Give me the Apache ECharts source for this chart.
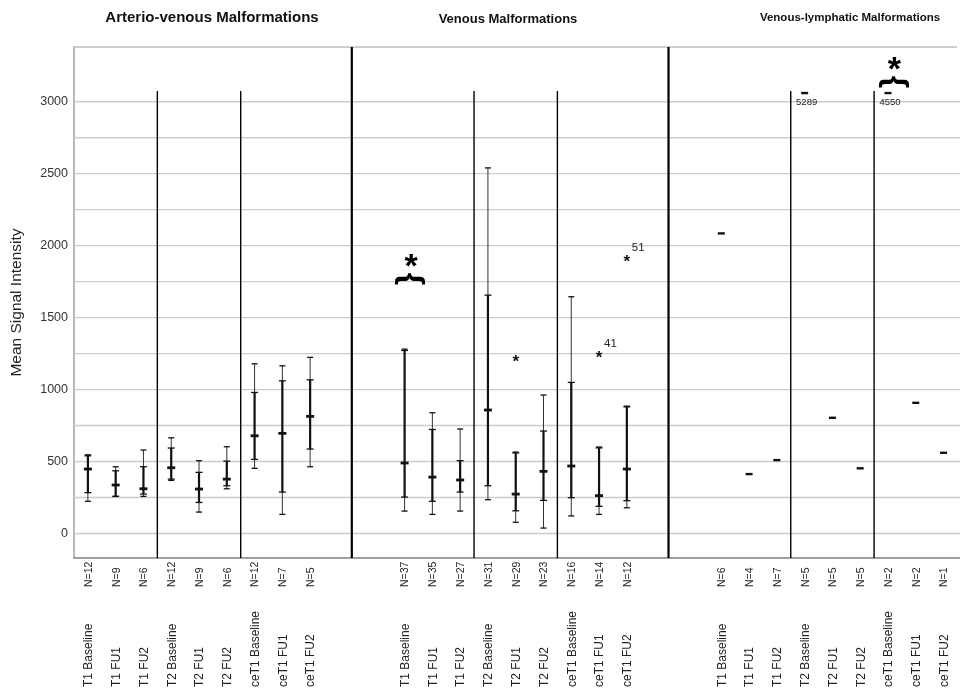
<!DOCTYPE html>
<html>
<head>
<meta charset="utf-8">
<script src="https://cdn.jsdelivr.net/npm/echarts@6/dist/echarts.min.js"></script>
<style>html,body{margin:0;padding:0;background:#fff;}#chart{width:960px;height:690px;}</style>
</head>
<body>
<div id="chart"></div>
<script>
// ---------- DATA ----------
const panelTitles = ['Arterio-venous Malformations', 'Venous Malformations', 'Venous-lymphatic Malformations'];
const categories = ['T1 Baseline', 'T1 FU1', 'T1 FU2', 'T2 Baseline', 'T2 FU1', 'T2 FU2', 'ceT1 Baseline', 'ceT1 FU1', 'ceT1 FU2'];
const yTickLabels = [0, 500, 1000, 1500, 2000, 2500, 3000];
const gridValues = [0, 250, 500, 750, 1000, 1250, 1500, 1750, 2000, 2250, 2500, 2750, 3000];

// Arterio-venous malformations
const avmN    = [12, 9, 6, 12, 9, 6, 12, 7, 5];
const avmLow  = [224, 258, 258, 369, 149, 311, 453, 133, 464];
const avmQ1   = [284, 258, 274, 378, 216, 332, 515, 288, 587];
const avmMed  = [448, 337, 311, 457, 309, 378, 679, 696, 814];
const avmQ3   = [540, 436, 464, 594, 425, 503, 980, 1061, 1068];
const avmHigh = [547, 464, 580, 665, 506, 603, 1179, 1165, 1224];

// Venous malformations
const vmN    = [37, 35, 27, 31, 29, 23, 16, 14, 12];
const vmLow  = [156, 133, 156, 235, 78, 38, 122, 133, 179];
const vmQ1   = [253, 224, 288, 332, 158, 230, 249, 189, 228];
const vmMed  = [490, 392, 372, 858, 274, 432, 469, 263, 448];
const vmQ3   = [1272, 723, 506, 1656, 560, 712, 1050, 595, 880];
const vmHigh = [1281, 839, 726, 2540, 566, 962, 1645, 601, 885];
const vmOutlierIdx   = [4, 7, 8];
const vmOutlierValue = [1217, 1244, 1906];
const vmOutlierLabel = ['', '41', '51'];

// Venous-lymphatic malformations (single values)
const vlmN     = [6, 4, 7, 5, 5, 5, 2, 2, 1];
const vlmValue = [2085, 413, 510, 5289, 804, 453, 4550, 908, 561];

// significance annotations: [panel, category index, value of brace]
const sigPanel = [1, 2];
const sigIdx   = [0, 6];
const sigValue = [1768, 3137];

// ---------- LAYOUT CONSTANTS ----------
const Y_MIN = -170, Y_MAX = 3380;
const SLOT = 27.875;
const GRID_LEFT = 74, GRID_RIGHT = -3, GRID_TOP = 47, GRID_BOTTOM = 132;
const X_MIN = -0.5;
const X_MAX = X_MIN + (960 - GRID_RIGHT - GRID_LEFT) / SLOT;
const PANEL_STEP = 11.4;
const GROUP_SEP_TOP = 3075;
const OFFSCALE_CAP = 3060;
const FONT = '"Liberation Sans", Arial, Helvetica, sans-serif';
const INK = '#111';

function xPos(p, i) { return p * PANEL_STEP + i; }

const boxSets = [
  [avmLow, avmQ1, avmMed, avmQ3, avmHigh],
  [vmLow, vmQ1, vmMed, vmQ3, vmHigh]
];
const nSets = [avmN, vmN, vlmN];

const boxData = [];
boxSets.forEach((s, p) => {
  for (let i = 0; i < categories.length; i++) {
    boxData.push([xPos(p, i), s[0][i], s[1][i], s[2][i], s[3][i], s[4][i]]);
  }
});
const vlmData = vlmValue.map((v, i) => [xPos(2, i), v]);
const outlierData = vmOutlierIdx.map((idx, k) => [xPos(1, idx), vmOutlierValue[k]]);
const sigData = sigPanel.map((p, k) => [xPos(p, sigIdx[k]), sigValue[k]]);
const labelData = [];
for (let p = 0; p < 3; p++) for (let i = 0; i < categories.length; i++) labelData.push([xPos(p, i), Y_MIN]);
const panelSepData = [0, 1].map(p => [xPos(p, categories.length - 1) + 1.5, Y_MIN]);
const groupSepData = [];
for (let p = 0; p < 3; p++) { groupSepData.push([xPos(p, 2.5), Y_MIN]); groupSepData.push([xPos(p, 5.5), Y_MIN]); }

function ln(x1, y1, x2, y2, w, c) {
  return { type: 'line', shape: { x1, y1, x2, y2 }, style: { stroke: c || INK, lineWidth: w } };
}

const chart = echarts.init(document.getElementById('chart'), null, { renderer: 'canvas' });

const option = {
  animation: false,
  backgroundColor: '#fff',
  title: [
    { text: panelTitles[0], left: 212, top: 10, textAlign: 'center', padding: 0, textStyle: { fontSize: 15, fontWeight: 'bold', color: INK, fontFamily: FONT } },
    { text: panelTitles[1], left: 508, top: 13, textAlign: 'center', padding: 0, textStyle: { fontSize: 13, fontWeight: 'bold', color: INK, fontFamily: FONT } },
    { text: panelTitles[2], left: 850, top: 12, textAlign: 'center', padding: 0, textStyle: { fontSize: 11.5, fontWeight: 'bold', color: INK, fontFamily: FONT } }
  ],
  grid: { left: GRID_LEFT, right: GRID_RIGHT, top: GRID_TOP, bottom: GRID_BOTTOM, containLabel: false },
  xAxis: {
    type: 'value', min: X_MIN, max: X_MAX,
    axisLine: { show: true, onZero: false, lineStyle: { color: '#808080', width: 1.5 } },
    axisTick: { show: false }, axisLabel: { show: false }, splitLine: { show: false }
  },
  yAxis: {
    type: 'value', min: Y_MIN, max: Y_MAX, splitNumber: 7,
    name: 'Mean Signal Intensity', nameLocation: 'middle', nameGap: 49, nameRotate: 90,
    nameTextStyle: { fontSize: 15.5, color: '#222', fontFamily: FONT },
    axisLine: { show: true, onZero: false, lineStyle: { color: '#a0a0a0', width: 1.5 } },
    axisTick: { show: false },
    axisLabel: {
      fontSize: 12.5, color: '#333', fontFamily: FONT, margin: 6,
      formatter: v => (yTickLabels.indexOf(v) >= 0 ? String(v) : '')
    },
    splitLine: { show: false }
  },
  series: [
    { // gridlines + top border
      type: 'custom', z: 1, silent: true, clip: false,
      data: gridValues.map(v => [X_MIN, v]).concat([[X_MIN, Y_MAX]]),
      renderItem: (params, api) => {
        const v = api.value(1);
        const cs = params.coordSys;
        const y = api.coord([X_MIN, v])[1];
        const top = v === Y_MAX;
        return ln(cs.x, y, top ? 957 : cs.x + cs.width, y, top ? 1.6 : 1.4, top ? '#bdbdbd' : '#cccccc');
      }
    },
    { // panel separators (thick)
      type: 'custom', z: 2, silent: true, clip: false,
      data: panelSepData,
      renderItem: (params, api) => {
        const a = api.coord([api.value(0), Y_MIN]);
        const b = api.coord([api.value(0), Y_MAX]);
        return ln(a[0], a[1], b[0], b[1], 2.2, '#000');
      }
    },
    { // group separators (thin)
      type: 'custom', z: 2, silent: true, clip: false,
      data: groupSepData,
      renderItem: (params, api) => {
        const a = api.coord([api.value(0), Y_MIN]);
        const b = api.coord([api.value(0), GROUP_SEP_TOP]);
        return ln(a[0], a[1], b[0], b[1], 1.4, '#000');
      }
    },
    { // box / whisker marks
      type: 'custom', z: 3, silent: true, clip: false,
      data: boxData,
      encode: { x: 0, y: [1, 2, 3, 4, 5] },
      renderItem: (params, api) => {
        const x = api.value(0);
        const lo = api.coord([x, api.value(1)]);
        const q1 = api.coord([x, api.value(2)]);
        const md = api.coord([x, api.value(3)]);
        const q3 = api.coord([x, api.value(4)]);
        const hi = api.coord([x, api.value(5)]);
        const cx = lo[0];
        return { type: 'group', children: [
          ln(cx, lo[1], cx, hi[1], 1, '#333'),
          ln(cx, q1[1], cx, q3[1], 2.2),
          ln(cx - 3, lo[1], cx + 3, lo[1], 1.3),
          ln(cx - 3, hi[1], cx + 3, hi[1], 1.3),
          ln(cx - 3.5, q1[1], cx + 3.5, q1[1], 1.3),
          ln(cx - 3.5, q3[1], cx + 3.5, q3[1], 1.3),
          ln(cx - 4, md[1], cx + 4, md[1], 2.8)
        ]};
      }
    },
    { // VLM single values
      type: 'custom', z: 3, silent: true, clip: false,
      data: vlmData,
      encode: { x: 0, y: 1 },
      renderItem: (params, api) => {
        const raw = api.value(1);
        const p = api.coord([api.value(0), Math.min(raw, OFFSCALE_CAP)]);
        const kids = [ln(p[0] - 3.5, p[1], p[0] + 3.5, p[1], 2.4)];
        if (raw > OFFSCALE_CAP) {
          kids.push({ type: 'text', x: p[0] + 2, y: p[1] + 9, style: { text: String(raw), fill: '#222', fontSize: 9.5, fontFamily: FONT, align: 'center', verticalAlign: 'middle' } });
        }
        return { type: 'group', children: kids };
      }
    },
    { // outliers
      type: 'custom', z: 4, silent: true, clip: false,
      data: outlierData,
      encode: { x: 0, y: 1 },
      renderItem: (params, api) => {
        const p = api.coord([api.value(0), api.value(1)]);
        const lab = vmOutlierLabel[params.dataIndex];
        const kids = [{ type: 'text', x: p[0], y: p[1] + 3.5, style: { text: '*', fill: INK, fontSize: 17, fontWeight: 'bold', fontFamily: FONT, align: 'center', verticalAlign: 'middle' } }];
        if (lab) kids.push({ type: 'text', x: p[0] + 5, y: p[1] - 11, style: { text: lab, fill: '#222', fontSize: 11.5, fontFamily: FONT, align: 'left', verticalAlign: 'middle' } });
        return { type: 'group', children: kids };
      }
    },
    { // significance marks
      type: 'custom', z: 4, silent: true, clip: false,
      data: sigData,
      encode: { x: 0, y: 1 },
      renderItem: (params, api) => {
        const p = api.coord([api.value(0), api.value(1)]);
        const cx = p[0] + 6.5;
        return { type: 'group', children: [
          { type: 'text', x: cx, y: p[1], rotation: -Math.PI / 2, style: { text: '{', fill: '#000', fontSize: 32, fontWeight: 'bold', fontFamily: FONT, align: 'center', verticalAlign: 'middle' } },
          { type: 'text', x: cx, y: p[1] - 11, style: { text: '*', fill: '#000', fontSize: 34, fontWeight: 'bold', fontFamily: FONT, align: 'center', verticalAlign: 'middle' } }
        ]};
      }
    },
    { // category labels
      type: 'custom', z: 4, silent: true, clip: false,
      data: labelData,
      encode: { x: 0, y: 1 },
      renderItem: (params, api) => {
        const idx = params.dataIndex;
        const p = Math.floor(idx / categories.length), i = idx % categories.length;
        const base = api.coord([api.value(0), Y_MIN]);
        return { type: 'group', children: [
          { type: 'text', x: base[0] + 1, y: base[1] + 29, rotation: Math.PI / 2, style: { text: 'N=' + nSets[p][i], fill: '#222', fontSize: 10.5, fontFamily: FONT, align: 'left', verticalAlign: 'middle' } },
          { type: 'text', x: base[0] + 1, y: base[1] + 129, rotation: Math.PI / 2, style: { text: categories[i], fill: '#222', fontSize: 12, fontFamily: FONT, align: 'left', verticalAlign: 'middle' } }
        ]};
      }
    }
  ]
};
chart.setOption(option);
</script>
</body>
</html>
